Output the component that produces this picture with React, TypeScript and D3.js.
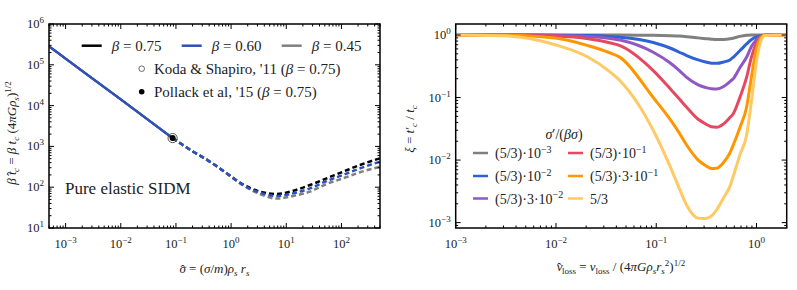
import React from 'react';
import * as d3 from 'd3';

// ---------- Left panel data ----------
const betaLabels = ['0.75', '0.60', '0.45'];
const betaColors = ['#000000', '#2b50c2', '#808080'];
const solidSigma = [5e-4, 1e-3, 1e-2, 0.087];
const solidT = [2.84e5, 1.42e5, 1.42e4, 1600];
const dashSigma = [0.087, 0.12, 0.206, 0.414, 0.83, 1.66, 3.33, 6.7, 13.4, 26.9, 54, 107, 217, 500];
const dashBlack = [1600, 1190, 742, 422, 219, 116, 78, 68, 82, 113, 165, 240, 350, 513];
const dashBlue = [1600, 1190, 742, 422, 219, 113, 73.4, 60.8, 70.8, 93.6, 142, 200, 290, 422];
const dashGray = [1600, 1190, 742, 422, 219, 110, 68, 52.5, 61, 78, 120, 165, 232, 318];
const markerSigma = 0.087;
const markerT = 1600;

// ---------- Right panel data ----------
const nuGrid = [0.001, 0.0031, 0.0098, 0.021, 0.0333, 0.0435, 0.0933, 0.137, 0.17, 0.201, 0.262, 0.31, 0.356, 0.4, 0.47, 0.543, 0.586, 0.682, 0.796, 0.893, 1.0, 1.12, 1.21, 2];
const xiGray = [1, 1, 1, 1, 1, 0.998, 0.99, 0.975, 0.96, 0.94, 0.9, 0.875, 0.855, 0.845, 0.85, 0.87, 0.89, 0.95, 0.99, 1, 1, 1, 1, 1];
const xiBlue = [1, 1, 0.995, 0.98, 0.95, 0.92, 0.76, 0.62, 0.53, 0.47, 0.4, 0.37, 0.355, 0.352, 0.37, 0.4, 0.44, 0.56, 0.72, 0.85, 0.93, 0.975, 0.995, 1];
const xiPurple = [1, 1, 0.985, 0.95, 0.89, 0.83, 0.53, 0.36, 0.27, 0.21, 0.16, 0.145, 0.138, 0.137, 0.15, 0.18, 0.2, 0.3, 0.44, 0.66, 0.84, 0.96, 0.995, 1];
const xiRed = [1, 0.995, 0.96, 0.87, 0.76, 0.675, 0.27, 0.14, 0.095, 0.07, 0.045, 0.038, 0.034, 0.0335, 0.038, 0.048, 0.055, 0.1, 0.21, 0.45, 0.75, 0.95, 0.995, 1];
const xiOrange = [1, 0.99, 0.895, 0.675, 0.53, 0.439, 0.1, 0.045, 0.027, 0.0174, 0.01, 0.0082, 0.0073, 0.0074, 0.0092, 0.013, 0.0174, 0.033, 0.07, 0.22, 0.62, 0.92, 0.99, 1];
const xiYellow = [1, 0.97, 0.7, 0.44, 0.27, 0.186, 0.03, 0.008, 0.0035, 0.0019, 0.00118, 0.00116, 0.00128, 0.0016, 0.0025, 0.0038, 0.0055, 0.012, 0.025, 0.09, 0.38, 0.85, 0.98, 1];
const ratioLabels = [
  { pre: '(5/3)·10', exp: '−3' },
  { pre: '(5/3)·10', exp: '−2' },
  { pre: '(5/3)·3·10', exp: '−2' },
  { pre: '(5/3)·10', exp: '−1' },
  { pre: '(5/3)·3·10', exp: '−1' },
  { pre: '5/3', exp: '' },
];
const ratioColors = ['#808080', '#2f62d6', '#8f58c4', '#e6485f', '#ff9600', '#ffc963'];

const FONT = "'Liberation Serif', 'DejaVu Serif', serif";
const TXT = '#222';
const L = { x0: 49, x1: 380, y0: 24, y1: 228 };
const R = { x0: 455.7, x1: 786.7, y0: 24, y1: 228 };

const xL = d3.scaleLog().domain([5e-4, 500]).range([L.x0, L.x1]);
const yL = d3.scaleLog().domain([10, 1e6]).range([L.y1, L.y0]);
const xR = d3.scaleLog().domain([1e-3, 2]).range([R.x0, R.x1]);
const yR = d3.scaleLog().domain([8.2e-4, 1.5]).range([R.y1, R.y0]);

function logTicks(domain: number[]) {
  const [a, b] = domain;
  const out: { v: number; major: boolean; e: number }[] = [];
  for (let e = Math.floor(Math.log10(a)); e <= Math.ceil(Math.log10(b)); e++) {
    for (let m = 1; m <= 9; m++) {
      const v = m * Math.pow(10, e);
      if (v >= a * 0.9999 && v <= b * 1.0001) out.push({ v, major: m === 1, e });
    }
  }
  return out;
}

function expStr(e: number) {
  return e < 0 ? '−' + -e : String(e);
}

function Axes({ box, xs, ys }: any) {
  const xt = logTicks(xs.domain());
  const yt = logTicks(ys.domain());
  const items: any[] = [];
  xt.forEach((t, i) => {
    const x = xs(t.v);
    const len = t.major ? 5 : 2.5;
    items.push(<line key={'xb' + i} x1={x} x2={x} y1={box.y1} y2={box.y1 - len} stroke="#000" strokeWidth={1} />);
    items.push(<line key={'xt' + i} x1={x} x2={x} y1={box.y0} y2={box.y0 + len} stroke="#000" strokeWidth={1} />);
    if (t.major)
      items.push(
        <text key={'xl' + i} x={x} y={box.y1 + 20} textAnchor="middle" fontSize={12.5} fontFamily={FONT} fill={TXT}>
          10<tspan dy={-5} fontSize={9}>{expStr(t.e)}</tspan>
        </text>
      );
  });
  yt.forEach((t, i) => {
    const y = ys(t.v);
    const len = t.major ? 5 : 2.5;
    items.push(<line key={'yl' + i} x1={box.x0} x2={box.x0 + len} y1={y} y2={y} stroke="#000" strokeWidth={1} />);
    items.push(<line key={'yr' + i} x1={box.x1} x2={box.x1 - len} y1={y} y2={y} stroke="#000" strokeWidth={1} />);
    if (t.major)
      items.push(
        <text key={'ylb' + i} x={box.x0 - 5} y={y + 4} textAnchor="end" fontSize={12.5} fontFamily={FONT} fill={TXT}>
          10<tspan dy={-5} fontSize={9}>{expStr(t.e)}</tspan>
        </text>
      );
  });
  return <g>{items}</g>;
}

export default function App() {
  const lineL = d3
    .line<[number, number]>()
    .x((d) => xL(d[0]))
    .y((d) => yL(d[1]))
    .curve(d3.curveMonotoneX);
  const lineR = d3
    .line<[number, number]>()
    .x((d) => xR(d[0]))
    .y((d) => yR(d[1]))
    .curve(d3.curveMonotoneX);

  const solid = solidSigma.map((s, i) => [s, solidT[i]] as [number, number]);
  const dashSets = [dashBlack, dashBlue, dashGray];
  const drawOrder = [0, 2, 1];
  const xiSets = [xiGray, xiBlue, xiPurple, xiRed, xiOrange, xiYellow];

  return (
    <svg width={797} height={290} style={{ position: 'absolute', left: 0, top: 0, background: '#fff' }} fontFamily={FONT}>
      <defs>
        <clipPath id="clipL">
          <rect x={L.x0} y={L.y0} width={L.x1 - L.x0} height={L.y1 - L.y0} />
        </clipPath>
        <clipPath id="clipR">
          <rect x={R.x0} y={R.y0} width={R.x1 - R.x0} height={R.y1 - R.y0} />
        </clipPath>
      </defs>

      {/* ---------- LEFT PANEL ---------- */}
      <g clipPath="url(#clipL)">
        {drawOrder.map((k) => (
          <path key={'s' + k} d={lineL(solid) || ''} fill="none" stroke={betaColors[k]} strokeWidth={2.2} />
        ))}
        {drawOrder.map((k) => (
          <path
            key={'d' + k}
            d={lineL(dashSigma.map((s, i) => [s, dashSets[k][i]] as [number, number])) || ''}
            fill="none"
            stroke={betaColors[k]}
            strokeWidth={2.5}
            strokeDasharray="5,3"
          />
        ))}
        <circle cx={xL(markerSigma)} cy={yL(markerT)} r={4.6} fill="none" stroke="#444" strokeWidth={0.9} />
        <circle cx={xL(markerSigma)} cy={yL(markerT)} r={3} fill="#000" />
      </g>
      <rect x={L.x0} y={L.y0} width={L.x1 - L.x0} height={L.y1 - L.y0} fill="none" stroke="#000" strokeWidth={1.5} />
      <Axes box={L} xs={xL} ys={yL} />

      {/* legend left */}
      {betaLabels.map((b, i) => {
        const lx = [81.7, 181.7, 281.7][i];
        return (
          <g key={'lg' + i}>
            <line x1={lx} x2={lx + 20} y1={45.7} y2={45.7} stroke={betaColors[i]} strokeWidth={2.5} />
            <text x={lx + 30} y={51} fontSize={15} fill={TXT}>
              <tspan fontStyle="italic">β</tspan>
              {' = ' + b}
            </text>
          </g>
        );
      })}
      <circle cx={141.7} cy={68.7} r={2.8} fill="none" stroke="#444" strokeWidth={0.8} />
      <text x={154} y={74} fontSize={15} fill={TXT}>
        {"Koda & Shapiro, '11 ("}
        <tspan fontStyle="italic">β</tspan>
        {' = 0.75)'}
      </text>
      <circle cx={141.7} cy={91.7} r={2.8} fill="#000" />
      <text x={154} y={97} fontSize={15} fill={TXT}>
        {"Pollack et al, '15 ("}
        <tspan fontStyle="italic">β</tspan>
        {' = 0.75)'}
      </text>
      <text x={65} y={194} fontSize={17} fill={TXT}>
        Pure elastic SIDM
      </text>

      {/* axis labels left */}
      <text x={214.5} y={273} textAnchor="middle" fontSize={13} fill={TXT}>
        <tspan fontStyle="italic">σ</tspan>
        <tspan dx={-5.5} dy={1}>ˆ</tspan>
        <tspan dx={1} dy={-1}>{' = ('}</tspan>
        <tspan fontStyle="italic">σ</tspan>/<tspan fontStyle="italic">m</tspan>)<tspan fontStyle="italic">ρ</tspan>
        <tspan dy={3} fontSize={9} fontStyle="italic">s</tspan>
        <tspan dy={-3} fontStyle="italic">{' r'}</tspan>
        <tspan dy={3} fontSize={9} fontStyle="italic">s</tspan>
      </text>
      <text transform="translate(16,133) rotate(-90)" textAnchor="middle" fontSize={13} fill={TXT}>
        <tspan fontStyle="italic">β</tspan>
        <tspan fontStyle="italic">{' t'}</tspan>
        <tspan dx={-4.5} dy={0}>ˆ</tspan>
        <tspan dy={3} dx={-0.5} fontSize={9} fontStyle="italic">c</tspan>
        <tspan dy={-3}>{' = '}</tspan>
        <tspan fontStyle="italic">β t</tspan>
        <tspan dy={3} fontSize={9} fontStyle="italic">c</tspan>
        <tspan dy={-3}>{' (4'}</tspan>
        <tspan fontStyle="italic">πGρ</tspan>
        <tspan dy={3} fontSize={9} fontStyle="italic">s</tspan>
        <tspan dy={-3}>)</tspan>
        <tspan dy={-5} fontSize={9}>1/2</tspan>
      </text>

      {/* ---------- RIGHT PANEL ---------- */}
      <g clipPath="url(#clipR)">
        {xiSets.map((arr, k) => (
          <path
            key={'r' + k}
            d={lineR(nuGrid.map((n, i) => [n, arr[i]] as [number, number])) || ''}
            fill="none"
            stroke={ratioColors[k]}
            strokeWidth={3}
            strokeLinejoin="round"
          />
        ))}
      </g>
      <rect x={R.x0} y={R.y0} width={R.x1 - R.x0} height={R.y1 - R.y0} fill="none" stroke="#000" strokeWidth={1.5} />
      <Axes box={R} xs={xR} ys={yR} />

      {/* legend right */}
      <text x={564} y={139} textAnchor="middle" fontSize={14} fill={TXT}>
        <tspan fontStyle="italic">σ</tspan>′/(<tspan fontStyle="italic">βσ</tspan>)
      </text>
      {ratioLabels.map((r, i) => {
        const col = Math.floor(i / 3);
        const row = i % 3;
        const lx = [473, 568][col];
        const ly = [153, 176, 198.5][row];
        return (
          <g key={'rl' + i}>
            <line x1={lx} x2={lx + 15} y1={ly} y2={ly} stroke={ratioColors[i]} strokeWidth={2.5} />
            <text x={lx + 22} y={ly + 5} fontSize={14} fill={TXT}>
              {r.pre}
              {r.exp ? (
                <tspan dy={-5.5} fontSize={10}>
                  {r.exp}
                </tspan>
              ) : null}
            </text>
          </g>
        );
      })}

      {/* axis labels right */}
      <text x={621} y={271} textAnchor="middle" fontSize={13} fill={TXT}>
        <tspan fontStyle="italic">ν</tspan>
        <tspan dx={-5.5} dy={1}>ˆ</tspan>
        <tspan dy={2} dx={0.5} fontSize={9}>loss</tspan>
        <tspan dy={-3}>{' = '}</tspan>
        <tspan fontStyle="italic">ν</tspan>
        <tspan dy={3} fontSize={9}>loss</tspan>
        <tspan dy={-3}>{' / (4'}</tspan>
        <tspan fontStyle="italic">πGρ</tspan>
        <tspan dy={3} fontSize={9} fontStyle="italic">s</tspan>
        <tspan dy={-3} fontStyle="italic">r</tspan>
        <tspan dy={3} fontSize={9} fontStyle="italic">s</tspan>
        <tspan dy={-8} fontSize={9}>2</tspan>
        <tspan dy={5}>)</tspan>
        <tspan dy={-5} fontSize={9}>1/2</tspan>
      </text>
      <text transform="translate(414,129) rotate(-90)" textAnchor="middle" fontSize={13} fill={TXT}>
        <tspan fontStyle="italic">ξ</tspan>
        {' = '}
        <tspan fontStyle="italic">t</tspan>′<tspan dy={3} fontSize={9} fontStyle="italic">c</tspan>
        <tspan dy={-3}>{' / '}</tspan>
        <tspan fontStyle="italic">t</tspan>
        <tspan dy={3} fontSize={9} fontStyle="italic">c</tspan>
      </text>
    </svg>
  );
}
